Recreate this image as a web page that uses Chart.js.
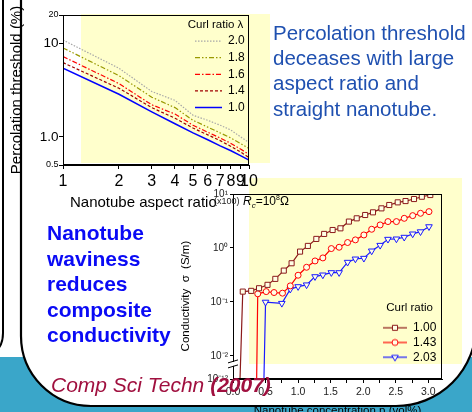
<!DOCTYPE html>
<html>
<head>
<meta charset="utf-8">
<script src="https://cdn.jsdelivr.net/npm/chart.js@4"></script>
<style>
  body { margin: 0; width: 472px; height: 412px; overflow: hidden; position: relative; background: #fff;
         font-family: Arial, "Liberation Sans", sans-serif; }
  .abs { position: absolute; }
  canvas { position: absolute; }
  .txt { position: absolute; white-space: nowrap; }
</style>
</head>
<body>
<!-- slide background: teal band, white panel, yellow highlights -->
<svg class="abs" style="left:0;top:0" width="472" height="412">
  <rect x="0" y="357" width="472" height="60" fill="#3AA6C9"/>
  <path d="M21,-5 L21,336 A70,70 0 0 0 91,406 L396,406 A80,80 0 0 0 476,326 L476,-5 Z" fill="#fff"/>
  <rect x="81" y="14" width="189" height="149" fill="#FFFFCC"/>
  <rect x="249" y="178" width="213" height="186" fill="#FFFFCC"/>
</svg>

<canvas id="threshChart" width="290" height="200" style="left:0;top:0"></canvas>
<canvas id="condChart" width="294" height="238" style="left:178px;top:180px"></canvas>

<!-- panel outlines on top -->
<svg class="abs" style="left:0;top:0" width="472" height="412">
  <path d="M21,-5 L21,336 A70,70 0 0 0 91,406 L396,406 A80,80 0 0 0 476,326 L476,-5" fill="none" stroke="#000" stroke-width="2.2"/>
  <path d="M3,-5 L3,333 Q3,347 -6,352" fill="none" stroke="#000" stroke-width="2"/>
</svg>

<div class="txt" style="left:70px;top:194px;font-size:15px;line-height:15px;color:#000">Nanotube aspect ratio</div>
<div class="txt" style="left:214px;top:197px;font-size:9px;line-height:9px;color:#222">(x100)</div>
<div class="txt" style="left:243px;top:195px;font-size:12px;line-height:12px;color:#000"><i>R</i><span style="font-size:8px;position:relative;top:3px"><i>c</i></span>=10<span style="font-size:7px;position:relative;top:-5px">8</span>&Omega;</div>

<div class="txt" style="left:273px;top:20px;font-size:20.5px;line-height:25.2px;color:#1F50B0">Percolation threshold<br>deceases with large<br>aspect ratio and<br>straight nanotube.</div>

<div class="txt" style="left:47px;top:220px;font-size:21px;line-height:25.5px;font-weight:bold;color:#0A0AF5">Nanotube<br>waviness<br>reduces<br>composite<br>conductivity</div>

<div class="txt" style="left:51px;top:374px;font-size:21px;line-height:21px;font-style:italic;color:#A0103F">Comp Sci Techn <b>(2007)</b></div>

<script>
// top chart: percolation threshold vs aspect ratio
const ratioX = [1, 2, 3, 4, 5, 6, 7, 8, 9, 10];
const curl20 = [10.8, 5.4, 3.05, 2.45, 1.7, 1.5, 1.33, 1.18, 1.0, 0.87];
const curl18 = [8.9, 4.5, 2.65, 2.05, 1.5, 1.27, 1.1, 0.97, 0.85, 0.75];
const curl16 = [7.2, 3.7, 2.2, 1.75, 1.33, 1.12, 0.97, 0.85, 0.74, 0.65];
const curl14 = [6.2, 3.3, 2.05, 1.58, 1.24, 1.05, 0.91, 0.79, 0.69, 0.6];
const curl10 = [5.4, 2.85, 1.85, 1.38, 1.1, 0.93, 0.8, 0.71, 0.63, 0.565];
const threshTicks = [0.5, 1, 10, 20];
const threshLabels = ['0.5', '1.0', '10', '20'];

// bottom chart: conductivity vs concentration (1e-12 = below the axis break)
const conc100 = [0.10, 0.15, 0.28, 0.40, 0.53, 0.65, 0.78, 0.90, 1.03, 1.15, 1.28, 1.40, 1.53, 1.65, 1.78, 1.90, 2.03, 2.15, 2.28, 2.40, 2.53, 2.65, 2.78, 2.90, 3.03];
const cond100 = [1e-12, 0.155, 0.16, 0.179, 0.207, 0.267, 0.38, 0.52, 0.855, 1.09, 1.47, 1.82, 2.15, 2.31, 3.08, 3.54, 4.08, 4.57, 5.42, 6.25, 7.0, 7.4, 8.07, 8.9, 9.57];
const conc143 = [0.36, 0.38, 0.51, 0.63, 0.76, 0.88, 1.00, 1.13, 1.26, 1.38, 1.51, 1.63, 1.76, 1.88, 2.01, 2.13, 2.26, 2.38, 2.51, 2.63, 2.76, 2.88, 3.01];
const cond143 = [1e-12, 0.141, 0.155, 0.149, 0.145, 0.198, 0.312, 0.438, 0.574, 0.653, 0.973, 1.03, 1.26, 1.41, 1.74, 2.22, 2.67, 3.08, 3.08, 3.54, 3.97, 4.39, 4.71];
const conc203 = [0.47, 0.50, 0.75, 0.88, 1.00, 1.13, 1.26, 1.38, 1.51, 1.63, 1.76, 1.88, 2.01, 2.13, 2.26, 2.38, 2.51, 2.63, 2.76, 2.88, 3.01];
const cond203 = [1e-12, 0.099, 0.094, 0.172, 0.192, 0.207, 0.294, 0.316, 0.349, 0.349, 0.543, 0.625, 0.644, 0.88, 1.12, 1.45, 1.47, 1.58, 1.82, 2.0, 2.48];
const concTicks = [0, 0.25, 0.5, 0.75, 1, 1.25, 1.5, 1.75, 2, 2.25, 2.5, 2.75, 3];
const condTickPos = [1, 0, -1, -2, -2.43];
const condTickLabels = ['10\u00B9', '10\u2070', '10\u207B\u00B9', '10\u207B\u00B2', '10\u207B\u00B9\u00B2'];

Chart.defaults.font.family = 'Arial, "Liberation Sans", sans-serif';
Chart.defaults.color = '#000';

// axis min of the broken log axis, values below the break sit under it
const condMin = -2.43;
function toAxis(v) { return v < 1e-6 ? condMin - 0.3 : Math.log10(v); }

// draws the full frame round the plot
const frame = {
    id: 'frame',
    afterDraw(chart) {
        const a = chart.chartArea, c = chart.ctx;
        c.save();
        c.strokeStyle = '#000'; c.lineWidth = 1;
        c.strokeRect(Math.round(a.left) + 0.5, Math.round(a.top) + 0.5, Math.round(a.right - a.left) - 1, Math.round(a.bottom - a.top) - 1);
        c.restore();
    }
};

// puts the legend at a fixed spot inside the plot (canvas coords), no clipping
function legendAt(x, y, w) {
    return {
        id: 'legendAt',
        afterLayout(chart) {
            const lg = chart.legend;
            lg.left = x; lg.top = y; lg.width = w; lg.height = 160;
            lg.right = x + 120; lg.bottom = y + 160;
            lg.draw = function () {
                const c = this.ctx;
                c.save();
                this._draw();
                c.restore();
            };
        }
    };
}

const lineSets = [
    { label: '2.0', data: curl20, color: '#A8A8A8', dash: [1.5, 1.5], w: 1.2 },
    { label: '1.8', data: curl18, color: '#999900', dash: [5, 2, 1.5, 2, 1.5, 2], w: 1.2 },
    { label: '1.6', data: curl16, color: '#FF0000', dash: [5, 2, 1.5, 2], w: 1.2 },
    { label: '1.4', data: curl14, color: '#A00000', dash: [3, 2], w: 1.2 },
    { label: '1.0', data: curl10, color: '#0000FF', dash: [], w: 1.5 }
];

new Chart(document.getElementById('threshChart').getContext('2d'), {
    type: 'line',
    data: {
        datasets: lineSets.map(s => ({
            label: s.label,
            data: ratioX.map((x, i) => ({ x: x, y: s.data[i] })),
            borderColor: s.color, borderDash: s.dash, borderWidth: s.w,
            pointRadius: 0, tension: 0, fill: false
        }))
    },
    options: {
        responsive: false, animation: false, devicePixelRatio: 1,
        layout: { padding: { top: 15, right: 41, left: 0, bottom: 0 } },
        plugins: {
            tooltip: { enabled: false },
            legend: {
                position: 'chartArea', align: 'start',
                title: { display: true, text: 'Curl ratio \u03BB', position: 'center', color: '#000',
                         font: { size: 11.5, lineHeight: 1 }, padding: { top: 0, bottom: 0 } },
                labels: {
                    usePointStyle: true, pointStyleWidth: 27, padding: 4.6, color: '#000',
                    font: { size: 12 },
                    generateLabels: chart => Chart.defaults.plugins.legend.labels.generateLabels(chart).map(it => {
                        const ds = chart.data.datasets[it.datasetIndex];
                        return Object.assign(it, { pointStyle: 'line', lineDash: ds.borderDash, lineWidth: ds.borderWidth, strokeStyle: ds.borderColor });
                    })
                }
            }
        },
        scales: {
            x: {
                type: 'logarithmic', min: 1, max: 10,
                afterBuildTicks: s => { s.ticks = ratioX.map(v => ({ value: v })); },
                afterFit: s => { s.height = 35; },
                grid: { drawOnChartArea: false, tickLength: 4, color: '#000' },
                border: { color: '#000' },
                ticks: { autoSkip: false, maxRotation: 0, padding: 3, color: '#000', font: { size: 16 },
                         callback: v => String(v) }
            },
            y: {
                type: 'logarithmic', min: 0.5, max: 20,
                afterBuildTicks: s => { s.ticks = threshTicks.map(v => ({ value: v })); },
                afterFit: s => { s.width = 63; },
                grid: { drawOnChartArea: false, tickLength: 4, color: '#000' },
                border: { color: '#000' },
                ticks: { padding: 0.5, color: '#000',
                         font: c => ({ size: (c.tick && (c.tick.value === 10 || c.tick.value === 1)) ? 13.5 : 9 }),
                         callback: v => threshLabels[threshTicks.indexOf(v)] },
                title: { display: true, text: 'Percolation threshold (%)', color: '#000',
                         font: { size: 15 }, padding: { top: 8, bottom: 0 } }
            }
        }
    },
    plugins: [frame, legendAt(190.4, 19, 50.2)]
});

// legend icon: line with the marker in the middle
function legendIcon(color, style, rotation, radius) {
    const cv = document.createElement('canvas');
    cv.width = 24; cv.height = 12;
    const c = cv.getContext('2d');
    c.strokeStyle = color; c.lineWidth = 1.2;
    c.beginPath(); c.moveTo(0, 6); c.lineTo(24, 6); c.stroke();
    c.fillStyle = '#FFFFE6'; c.lineWidth = 1;
    if (Chart.helpers && Chart.helpers.drawPoint) {
        Chart.helpers.drawPoint(c, { pointStyle: style, rotation: rotation, radius: radius, borderWidth: 1 }, 12, 6);
    }
    return cv;
}

const condSets = [
    { label: '1.00', xs: conc100, ys: cond100, color: '#8B1A1A', style: 'rect', rot: 0, r: 3.6 },
    { label: '1.43', xs: conc143, ys: cond143, color: '#FF0000', style: 'circle', rot: 0, r: 3 },
    { label: '2.03', xs: conc203, ys: cond203, color: '#1A1AFF', style: 'triangle', rot: 180, r: 3.8 }
];

// break mark on the y axis
const axisBreak = {
    id: 'axisBreak',
    afterDraw(chart) {
        const c = chart.ctx, x = chart.chartArea.left, y = chart.scales.y.getPixelForValue(-2.15);
        c.save();
        c.fillStyle = '#fff';
        c.fillRect(x - 5, y - 2, 10, 4);
        c.strokeStyle = '#000'; c.lineWidth = 1;
        c.beginPath();
        c.moveTo(x - 5, y - 1); c.lineTo(x + 5, y - 4);
        c.moveTo(x - 5, y + 4); c.lineTo(x + 5, y + 1);
        c.stroke();
        c.restore();
    }
};

new Chart(document.getElementById('condChart').getContext('2d'), {
    type: 'line',
    data: {
        datasets: condSets.map(s => ({
            label: s.label,
            data: s.xs.map((x, i) => ({ x: x, y: toAxis(s.ys[i]) })),
            borderColor: s.color, borderWidth: 1.2,
            pointStyle: s.style, rotation: s.rot,
            pointRadius: c => s.ys[c.dataIndex] < 1e-6 ? 0 : s.r,
            pointBorderColor: s.color, pointBackgroundColor: '#FFFFE6', pointBorderWidth: 1,
            tension: 0, fill: false
        }))
    },
    options: {
        responsive: false, animation: false, devicePixelRatio: 1,
        layout: { padding: { top: 14, right: 30, left: 0, bottom: 0 } },
        plugins: {
            tooltip: { enabled: false },
            legend: {
                position: 'chartArea', align: 'start',
                title: { display: true, text: 'Curl ratio', position: 'center', color: '#000',
                         font: { size: 11.5, lineHeight: 1 }, padding: { top: 0, bottom: 5.6 } },
                labels: {
                    usePointStyle: true, pointStyleWidth: 24, padding: 2.7, color: '#000',
                    font: { size: 12 },
                    generateLabels: chart => Chart.defaults.plugins.legend.labels.generateLabels(chart).map(it => {
                        const s = condSets[it.datasetIndex];
                        return Object.assign(it, { pointStyle: legendIcon(s.color, s.style, s.rot, s.r), rotation: 0 });
                    })
                }
            }
        },
        scales: {
            x: {
                type: 'linear', min: 0, max: 3.21,
                afterBuildTicks: s => { s.ticks = concTicks.map(v => ({ value: v })); },
                afterFit: s => { s.height = 39; },
                grid: { drawOnChartArea: false, tickLength: 4, color: '#000' },
                border: { color: '#000' },
                ticks: { autoSkip: false, maxRotation: 0, padding: 2.7, color: '#222', font: { size: 10.5 },
                         callback: v => Math.abs(v * 2 - Math.round(v * 2)) < 1e-6 ? v.toFixed(1) : '' },
                title: { display: true, text: 'Nanotube concentration p (vol%)', color: '#000',
                         font: { size: 11.5 }, padding: { top: 0, bottom: 0 } }
            },
            y: {
                type: 'linear', min: condMin, max: 1,
                afterBuildTicks: s => { s.ticks = condTickPos.map(v => ({ value: v })); },
                afterFit: s => { s.width = 55; },
                grid: { drawOnChartArea: false, tickLength: 3, color: '#000' },
                border: { color: '#000' },
                ticks: { padding: 2, color: '#222', font: { size: 10 },
                         callback: v => condTickLabels[condTickPos.indexOf(v)] },
                // trailing spaces push the rotated title down like the original
                title: { display: true, text: 'Conductivity  \u03C3  (S/m)\u00A0\u00A0\u00A0\u00A0\u00A0\u00A0', color: '#000',
                         font: { size: 11.5 }, padding: { top: 1.2, bottom: 0 } }
            }
        }
    },
    plugins: [frame, axisBreak, legendAt(202.3, 122, 58.4)]
});
</script>
</body>
</html>
